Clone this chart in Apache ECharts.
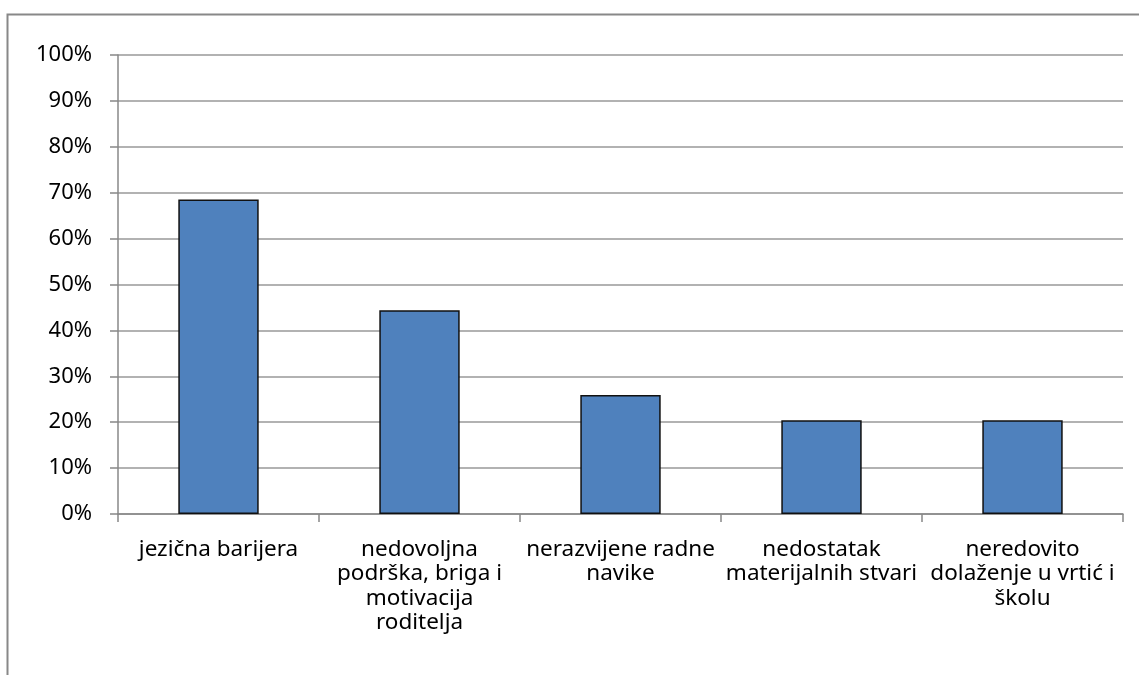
<!DOCTYPE html>
<html>
<head>
<meta charset="utf-8">
<script src="https://cdn.jsdelivr.net/npm/echarts@6/dist/echarts.min.js"></script>
<style>
  html, body { margin: 0; padding: 0; background: #fff; }
  #main { width: 1139px; height: 675px; }
</style>
</head>
<body>
<div id="main"></div>
<script>
var categories = [
  'jezična barijera',
  'nedovoljna\npodrška, briga i\nmotivacija\nroditelja',
  'nerazvijene radne\nnavike',
  'nedostatak\nmaterijalnih stvari',
  'neredovito\ndolaženje u vrtić i\nškolu'
];
var values = [68.5, 44.4, 25.9, 20.4, 20.4];
var yTicks = [0, 10, 20, 30, 40, 50, 60, 70, 80, 90, 100];

var myChart = echarts.init(document.getElementById('main'));
var font = '"Noto Sans", "DejaVu Sans", sans-serif';

var option = {
  animation: false,
  graphic: [{
    type: 'rect',
    shape: { x: 7.5, y: 14.5, width: 1140, height: 680 },
    style: { fill: 'none', stroke: '#888', lineWidth: 2 },
    silent: true
  }],
  grid: { left: 118, right: 16, top: 55, bottom: 161 },
  xAxis: {
    type: 'category',
    data: categories,
    axisLine: { lineStyle: { color: '#888', width: 1.5 } },
    axisTick: { show: true, length: 8, lineStyle: { color: '#888', width: 1.5 } },
    axisLabel: {
      interval: 0,
      margin: 23,
      color: '#000',
      fontFamily: font,
      fontSize: 22.5,
      lineHeight: 24.5
    }
  },
  yAxis: {
    type: 'value',
    min: yTicks[0],
    max: yTicks[yTicks.length - 1],
    interval: 10,
    axisLine: { show: true, lineStyle: { color: '#888', width: 1.5 } },
    axisTick: { show: true, length: 8, lineStyle: { color: '#888', width: 1.5 } },
    splitLine: { lineStyle: { color: '#999', width: 1.5 } },
    axisLabel: {
      margin: 26,
      color: '#000',
      fontFamily: font,
      fontSize: 22,
      formatter: '{value}%'
    }
  },
  series: [{
    type: 'bar',
    data: values,
    barWidth: '40%',
    itemStyle: { color: '#4f81bd', borderColor: '#111', borderWidth: 1.5 }
  }]
};
myChart.setOption(option);
</script>
</body>
</html>
